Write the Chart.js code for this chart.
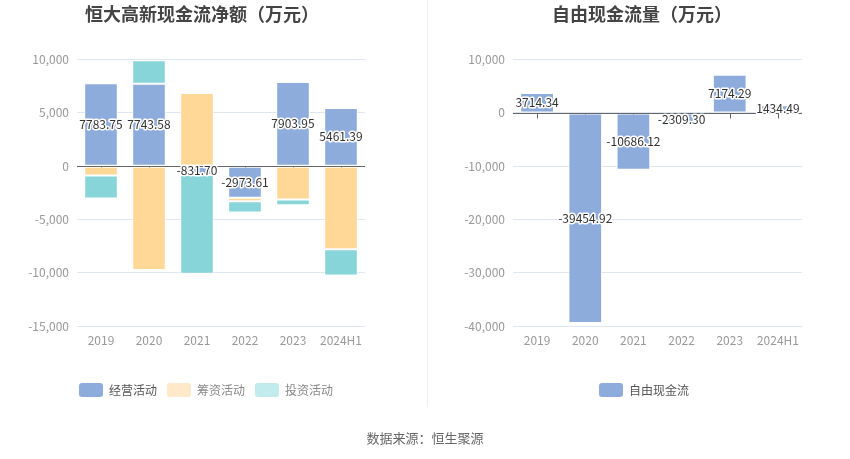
<!DOCTYPE html>
<html lang="zh">
<head>
<meta charset="UTF-8">
<title>恒大高新 现金流</title>
<script src="https://cdn.jsdelivr.net/npm/chart.js"></script>
<style>
  body { margin: 0; background: #fff; font-family: "Noto Sans CJK SC", "Noto Sans", sans-serif; }
  #wrap { position: relative; width: 850px; height: 459px; overflow: hidden; }
  #leftChart { position: absolute; left: 0; top: 0; }
  #rightChart { position: absolute; left: 427px; top: 0; }
  #sep { position: absolute; left: 427px; top: 0; width: 1px; height: 407px; background: #eeeeee; }
  #source { position: absolute; left: 0; top: 429px; width: 850px; text-align: center; font-size: 13px; line-height: 18px; color: #666; }
</style>
</head>
<body>
<div id="wrap">
  <canvas id="leftChart" width="427" height="459"></canvas>
  <div id="sep"></div>
  <canvas id="rightChart" width="423" height="459"></canvas>
  <div id="source">数据来源：恒生聚源</div>
</div>

<script>
const years = ['2019', '2020', '2021', '2022', '2023', '2024H1'];
const operating = [7783.75, 7743.58, -831.70, -2973.61, 7903.95, 5461.39];
const financing = [-880, -9750, 6860, -310, -3130, -7800];
const investing = [-2150, 2200, -9270, -1060, -540, -2470];
const freeCashFlow = [3714.34, -39454.92, -10686.12, -2309.30, 7174.29, 1434.49];

const leftTicks = { min: -15000, max: 10000, step: 5000 };
const rightTicks = { min: -40000, max: 10000, step: 10000 };

const FONT = '"Noto Sans CJK SC", "Noto Sans", sans-serif';
const BLUE = '#8dacdb';
const ORANGE = '#ffd796';
const TEAL = '#87d5d9';

// zero axis line + small ticks, and value labels on the first dataset
const zeroAxis = {
    id: 'zeroAxis',
    beforeDatasetsDraw(chart) {
        const { ctx, scales } = chart;
        const y0 = Math.round(scales.y.getPixelForValue(0)) + 0.5;
        ctx.save();
        ctx.strokeStyle = '#666';
        ctx.lineWidth = 1;
        ctx.beginPath();
        scales.x.ticks.forEach((t, i) => {
            const x = Math.round(scales.x.getPixelForTick(i)) + 0.5;
            ctx.moveTo(x, y0);
            ctx.lineTo(x, y0 + 5);
        });
        ctx.stroke();
        ctx.restore();
    },
    afterDatasetsDraw(chart) {
        const { ctx, chartArea, scales } = chart;
        const y0 = Math.round(scales.y.getPixelForValue(0)) + 0.5;
        ctx.save();
        ctx.strokeStyle = '#666';
        ctx.lineWidth = 1;
        ctx.beginPath();
        ctx.moveTo(chartArea.left, y0);
        ctx.lineTo(chartArea.right, y0);
        ctx.stroke();

        const meta = chart.getDatasetMeta(0);
        const values = chart.data.datasets[0].data;
        ctx.font = '12px ' + FONT;
        ctx.textAlign = 'center';
        ctx.textBaseline = 'middle';
        ctx.lineJoin = 'round';
        meta.data.forEach((bar, i) => {
            const txt = values[i].toFixed(2);
            const y = (bar.y + bar.base) / 2;
            ctx.strokeStyle = '#fff';
            ctx.lineWidth = 3;
            ctx.strokeText(txt, bar.x, y);
            ctx.fillStyle = '#333';
            ctx.fillText(txt, bar.x, y);
        });
        ctx.restore();
    }
};

// nudge title / legend horizontally so they sit where the original puts them
const boxShift = {
    id: 'boxShift',
    afterLayout(chart, args, opts) {
        if (chart.legend) { chart.legend.left += opts.legend; chart.legend.right += opts.legend; }
        if (chart.titleBlock) { chart.titleBlock.left += opts.title; chart.titleBlock.right += opts.title; }
    }
};

function makeOptions(title, ticks, yWidth, pad, shift, legendFill, legendText) {
    return {
        responsive: false,
        animation: false,
        layout: { padding: pad },
        plugins: {
            boxShift: shift,
            title: {
                display: true,
                text: title,
                color: '#444',
                font: { size: 18, weight: 'bold', family: FONT },
                padding: { top: 3, bottom: 35 }
            },
            legend: {
                position: 'bottom',
                labels: {
                    boxWidth: 24,
                    boxHeight: 14,
                    useBorderRadius: true,
                    borderRadius: 3,
                    padding: 10,
                    color: '#666',
                    font: { size: 12, family: FONT },
                    generateLabels(chart) {
                        const items = Chart.defaults.plugins.legend.labels.generateLabels(chart);
                        items.forEach((it, i) => {
                            it.fillStyle = legendFill[i];
                            it.strokeStyle = legendFill[i];
                            it.lineWidth = 0;
                            it.fontColor = legendText[i];
                        });
                        return items;
                    }
                }
            },
            tooltip: { enabled: false }
        },
        scales: {
            x: {
                stacked: true,
                grid: { display: false, drawTicks: false },
                border: { display: false },
                ticks: { color: '#999', padding: 7, maxRotation: 0, autoSkip: false, font: { size: 12, family: FONT } },
                afterFit(scale) { scale.height = 47; }
            },
            y: {
                stacked: true,
                min: ticks.min,
                max: ticks.max,
                grid: { color: '#e0e6f1', drawTicks: false },
                border: { display: false },
                ticks: {
                    stepSize: ticks.step,
                    color: '#999',
                    padding: 8,
                    font: { size: 12, family: FONT },
                    callback: v => v.toLocaleString('en-US')
                },
                afterFit(scale) { scale.width = yWidth; }
            }
        }
    };
}

const barStyle = {
    borderWidth: 1,
    borderColor: 'rgba(255,255,255,0.7)',
    borderSkipped: false,
    categoryPercentage: 1,
    barPercentage: 0.7
};

new Chart(document.getElementById('leftChart'), {
    type: 'bar',
    data: {
        labels: years,
        datasets: [
            { label: '经营活动', data: operating, backgroundColor: BLUE, ...barStyle },
            { label: '筹资活动', data: financing, backgroundColor: ORANGE, ...barStyle },
            { label: '投资活动', data: investing, backgroundColor: TEAL, ...barStyle }
        ]
    },
    options: makeOptions('恒大高新现金流净额（万元）', leftTicks, 67,
        { left: 10, right: 62, top: 0, bottom: 52 },
        { legend: 18.5, title: 14.5 },
        [BLUE, '#ffe9c9', '#c2ebed'], ['#555', '#888', '#888']),
    plugins: [zeroAxis, boxShift]
});

new Chart(document.getElementById('rightChart'), {
    type: 'bar',
    data: {
        labels: years,
        datasets: [
            { label: '自由现金流', data: freeCashFlow, backgroundColor: BLUE, ...barStyle }
        ]
    },
    options: makeOptions('自由现金流量（万元）', rightTicks, 76,
        { left: 10, right: 48, top: 0, bottom: 52 },
        { legend: 24.5, title: 22.5 },
        [BLUE], ['#555']),
    plugins: [zeroAxis, boxShift]
});
</script>
</body>
</html>
